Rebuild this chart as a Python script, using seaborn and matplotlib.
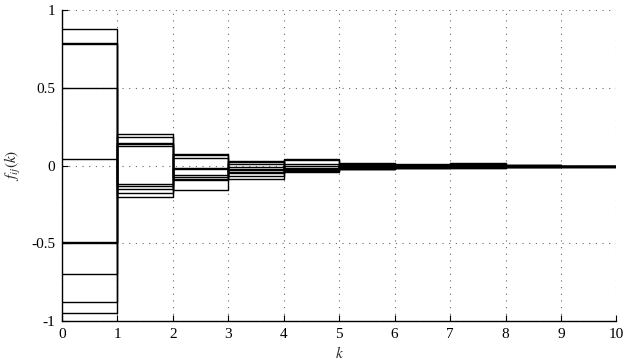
import numpy as np
import pandas as pd
import matplotlib
matplotlib.use("Agg")
import matplotlib.pyplot as plt
import seaborn as sns

# step index k and the values of each f_ij(k) at k = 0..9 (held to k = 10)
k_values = list(range(11))
f_k0 = [0.88, 0.79, 0.785, 0.50, 0.04, -0.49, -0.495, -0.70, -0.88, -0.95]
f_k1 = [-0.20, -0.175, -0.15, -0.13, -0.12, 0.125, 0.14, 0.145, 0.185, 0.20]
f_k2 = [0.075, 0.065, 0.05, -0.015, -0.02, -0.06, -0.075, -0.085, -0.095, -0.16]
f_k3 = [-0.085, -0.07, -0.05, -0.04, -0.03, -0.02, -0.01, 0.01, 0.02, 0.03]
f_k4 = [0.045, 0.035, 0.01, -0.005, -0.015, -0.02, -0.025, -0.03, -0.035, -0.04]
f_k5 = [-0.025, -0.022, -0.02, -0.015, -0.01, -0.005, 0.0, 0.005, 0.01, 0.018]
f_k6 = [0.01, 0.005, 0.0, -0.003, -0.006, -0.01, -0.012, -0.015, -0.017, -0.018]
f_k7 = [-0.016, -0.014, -0.012, -0.01, -0.007, -0.004, 0.0, 0.003, 0.008, 0.014]
f_k8 = [0.005, 0.003, 0.001, 0.0, -0.002, -0.004, -0.006, -0.008, -0.009, -0.01]
f_k9 = [-0.007, -0.006, -0.006, -0.005, -0.005, -0.004, -0.003, -0.002, -0.001, 0.0]
x_ticks = list(range(11))
y_ticks = [-1, -0.5, 0, 0.5, 1]
y_tick_labels = ["-1", "-0.5", "0", "0.5", "1"]

steps = [f_k0, f_k1, f_k2, f_k3, f_k4, f_k5, f_k6, f_k7, f_k8, f_k9]
rows = []
for s in range(len(f_k0)):
    vals = [st[s] for st in steps]
    vals = vals + [vals[-1]]
    for k, v in zip(k_values, vals):
        rows.append({"k": k, "f": v, "series": s})
df = pd.DataFrame(rows)

sns.set_theme(style="white")
plt.rcParams["font.family"] = ["Liberation Serif", "DejaVu Serif"]
plt.rcParams["mathtext.fontset"] = "stix"
plt.rcParams["axes.unicode_minus"] = False

fig = plt.figure(figsize=(6.3, 3.6), dpi=100)
ax = fig.add_axes([0.0984, 0.108, 0.8800, 0.864])

sns.lineplot(data=df, x="k", y="f", units="series", estimator=None,
             drawstyle="steps-post", color="black", linewidth=1.0,
             legend=False, ax=ax)

ax.set_xlim(0, 10)
ax.set_ylim(-1, 1)
ax.set_xticks(x_ticks)
ax.set_xticklabels([str(t) for t in x_ticks])
ax.set_yticks(y_ticks)
ax.set_yticklabels(y_tick_labels)
ax.grid(True, linestyle=(0, (1, 5)), color="#666666", linewidth=0.8)
ax.set_axisbelow(True)
for side in ["top", "right"]:
    ax.spines[side].set_visible(False)
for side in ["left", "bottom"]:
    ax.spines[side].set_color("black")
    ax.spines[side].set_linewidth(1.0)
ax.tick_params(direction="in", length=4, width=0.8, colors="black",
               labelsize=11, pad=5, bottom=True, left=True)
ax.set_xlabel("$k$", fontsize=11, labelpad=3)
ax.set_ylabel("$f_{ij}(k)$", fontsize=11, labelpad=6)

fig.savefig("out.png", dpi=100)
